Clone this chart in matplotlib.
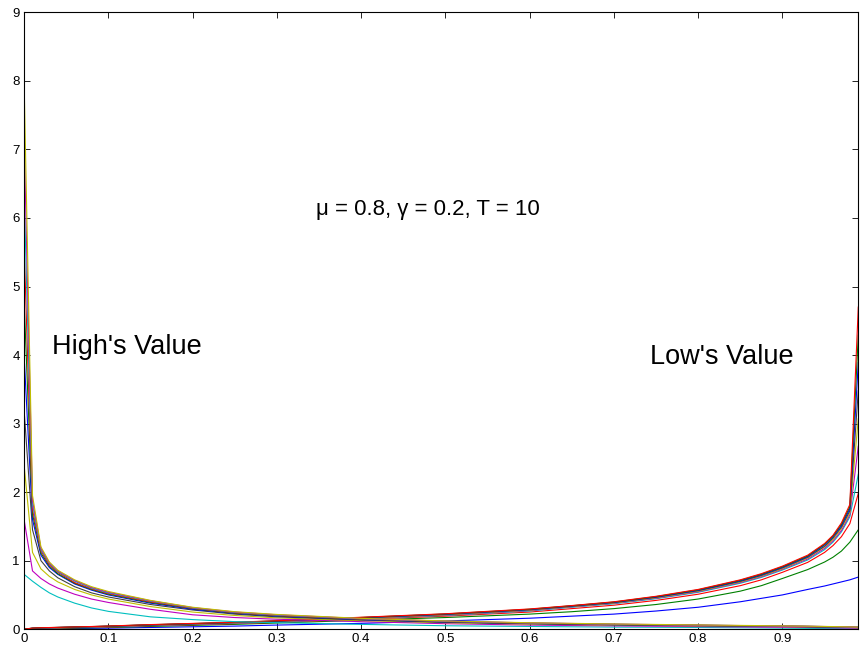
import numpy as np
import matplotlib
matplotlib.use("Agg")
import matplotlib.pyplot as plt

plt.rcParams['font.family'] = ['Liberation Sans', 'DejaVu Sans']

# sample positions along the x axis
x = [0, 0.01, 0.02, 0.03, 0.04, 0.06, 0.08, 0.1, 0.15, 0.2, 0.25, 0.3, 0.4,
     0.5, 0.6, 0.65, 0.7, 0.75, 0.8, 0.85, 0.875, 0.9, 0.93, 0.95, 0.96, 0.97, 0.98, 0.99]

# Low's value curves (drawn first)
low1 = [0, 0.002, 0.004, 0.005, 0.007, 0.01, 0.012, 0.015, 0.025, 0.035, 0.045, 0.06, 0.085,
        0.12, 0.16, 0.19, 0.22, 0.265, 0.32, 0.40, 0.45, 0.50, 0.58, 0.63, 0.66, 0.69, 0.72, 0.76]
low2 = [0, 0.005, 0.008, 0.01, 0.012, 0.016, 0.02, 0.025, 0.04, 0.055, 0.07, 0.09, 0.13,
        0.17, 0.22, 0.255, 0.30, 0.36, 0.44, 0.555, 0.635, 0.74, 0.87, 0.98, 1.05, 1.14, 1.27, 1.45]
low3 = [0, 0.008, 0.012, 0.014, 0.017, 0.022, 0.027, 0.032, 0.05, 0.065, 0.082, 0.1, 0.145,
        0.19, 0.25, 0.30, 0.35, 0.42, 0.51, 0.635, 0.72, 0.83, 0.975, 1.12, 1.22, 1.35, 1.54, 1.98]
low4 = [0, 0.01, 0.014, 0.017, 0.02, 0.026, 0.031, 0.036, 0.054, 0.07, 0.087, 0.105, 0.152,
        0.2, 0.265, 0.32, 0.371, 0.444, 0.538, 0.67, 0.755, 0.863, 1.01, 1.16, 1.27, 1.42, 1.64, 2.26]
low5 = [0, 0.011, 0.016, 0.019, 0.022, 0.028, 0.033, 0.038, 0.057, 0.073, 0.09, 0.11, 0.157,
        0.205, 0.272, 0.326, 0.378, 0.452, 0.547, 0.681, 0.766, 0.875, 1.025, 1.18, 1.29, 1.44, 1.67, 2.67]
low6 = [0, 0.012, 0.017, 0.02, 0.023, 0.029, 0.034, 0.04, 0.059, 0.076, 0.093, 0.113, 0.161,
        0.21, 0.278, 0.331, 0.383, 0.459, 0.555, 0.69, 0.776, 0.885, 1.04, 1.20, 1.31, 1.47, 1.70, 3.07]
low7 = [0, 0.013, 0.018, 0.021, 0.024, 0.03, 0.036, 0.042, 0.061, 0.078, 0.096, 0.116, 0.165,
        0.215, 0.283, 0.335, 0.388, 0.465, 0.562, 0.698, 0.785, 0.895, 1.05, 1.21, 1.33, 1.49, 1.73, 3.48]
low8 = [0, 0.014, 0.019, 0.022, 0.025, 0.031, 0.037, 0.043, 0.063, 0.08, 0.098, 0.119, 0.168,
        0.219, 0.287, 0.339, 0.392, 0.47, 0.568, 0.706, 0.794, 0.904, 1.06, 1.23, 1.35, 1.51, 1.76, 3.89]
low9 = [0, 0.015, 0.02, 0.023, 0.026, 0.032, 0.038, 0.045, 0.065, 0.082, 0.1, 0.121, 0.171,
        0.222, 0.291, 0.342, 0.396, 0.475, 0.574, 0.713, 0.802, 0.912, 1.07, 1.24, 1.36, 1.53, 1.79, 4.29]
low10 = [0, 0.016, 0.021, 0.024, 0.027, 0.033, 0.039, 0.046, 0.067, 0.084, 0.102, 0.123, 0.174,
         0.225, 0.295, 0.345, 0.40, 0.48, 0.58, 0.72, 0.81, 0.92, 1.08, 1.25, 1.37, 1.55, 1.82, 4.70]

# High's value curves
high1 = [0.80, 0.70, 0.61, 0.53, 0.47, 0.38, 0.31, 0.26, 0.18, 0.14, 0.11, 0.095, 0.07,
         0.05, 0.04, 0.035, 0.03, 0.028, 0.025, 0.02, 0.018, 0.015, 0.012, 0.01, 0.01, 0.008, 0.006, 0.005]
high2 = [1.60, 0.85, 0.74, 0.66, 0.60, 0.51, 0.44, 0.39, 0.29, 0.21, 0.17, 0.145, 0.11,
         0.08, 0.06, 0.054, 0.048, 0.043, 0.038, 0.033, 0.03, 0.028, 0.025, 0.022, 0.02, 0.018, 0.016, 0.014]
high3 = [2.40, 1.12, 0.88, 0.77, 0.69, 0.58, 0.50, 0.44, 0.33, 0.25, 0.20, 0.165, 0.125,
         0.095, 0.075, 0.067, 0.06, 0.054, 0.048, 0.043, 0.04, 0.038, 0.034, 0.031, 0.029, 0.027, 0.025, 0.022]
high4 = [3.20, 1.45, 1.00, 0.85, 0.75, 0.62, 0.53, 0.47, 0.36, 0.28, 0.22, 0.18, 0.135,
         0.10, 0.08, 0.072, 0.064, 0.058, 0.052, 0.046, 0.043, 0.04, 0.036, 0.033, 0.031, 0.029, 0.027, 0.024]
high5 = [4.00, 1.60, 1.08, 0.90, 0.80, 0.66, 0.57, 0.50, 0.38, 0.29, 0.23, 0.19, 0.14,
         0.105, 0.083, 0.075, 0.066, 0.06, 0.054, 0.048, 0.045, 0.042, 0.038, 0.035, 0.033, 0.031, 0.028, 0.025]
high6 = [4.80, 1.68, 1.11, 0.92, 0.81, 0.67, 0.58, 0.51, 0.39, 0.30, 0.235, 0.195, 0.145,
         0.108, 0.085, 0.077, 0.068, 0.061, 0.055, 0.049, 0.046, 0.043, 0.039, 0.036, 0.034, 0.032, 0.029, 0.026]
high7 = [5.60, 1.75, 1.14, 0.94, 0.83, 0.68, 0.59, 0.52, 0.40, 0.305, 0.24, 0.2, 0.148,
         0.111, 0.087, 0.079, 0.07, 0.063, 0.057, 0.05, 0.047, 0.044, 0.04, 0.037, 0.035, 0.033, 0.03, 0.027]
high8 = [6.40, 1.82, 1.16, 0.96, 0.84, 0.70, 0.60, 0.53, 0.41, 0.31, 0.245, 0.205, 0.152,
         0.114, 0.09, 0.081, 0.072, 0.065, 0.058, 0.052, 0.049, 0.046, 0.042, 0.038, 0.036, 0.034, 0.031, 0.028]
high9 = [7.20, 1.88, 1.18, 0.97, 0.85, 0.71, 0.61, 0.54, 0.415, 0.315, 0.25, 0.21, 0.155,
         0.117, 0.092, 0.083, 0.074, 0.067, 0.06, 0.053, 0.05, 0.047, 0.043, 0.039, 0.037, 0.035, 0.032, 0.029]
high10 = [8.00, 1.95, 1.20, 0.98, 0.86, 0.72, 0.62, 0.55, 0.42, 0.32, 0.255, 0.215, 0.158,
          0.12, 0.094, 0.085, 0.076, 0.069, 0.062, 0.055, 0.052, 0.048, 0.044, 0.04, 0.038, 0.036, 0.033, 0.03]

xticks = [0, 0.1, 0.2, 0.3, 0.4, 0.5, 0.6, 0.7, 0.8, 0.9]
xticklabels = ["0", "0.1", "0.2", "0.3", "0.4", "0.5", "0.6", "0.7", "0.8", "0.9"]
yticks = [0, 1, 2, 3, 4, 5, 6, 7, 8, 9]

# old matlab colour order
matlab_colors = [(0, 0, 1), (0, 0.5, 0), (1, 0, 0), (0, 0.75, 0.75),
                 (0.75, 0, 0.75), (0.75, 0.75, 0), (0.25, 0.25, 0.25)]

fig = plt.figure(figsize=(8.6, 6.52), dpi=100)
ax = fig.add_axes([0.028, 0.035, 0.97, 0.946])

curves = [low1, low2, low3, low4, low5, low6, low7, low8, low9, low10,
          high1, high2, high3, high4, high5, high6, high7, high8, high9, high10]
for i, y in enumerate(curves):
  ax.plot(x, y, color=matlab_colors[i % 7], linewidth=0.8)

ax.set_xlim(0, 0.99)
ax.set_ylim(0, 9)
ax.set_xticks(xticks)
ax.set_xticklabels(xticklabels)
ax.set_yticks(yticks)
ax.tick_params(direction="in", length=4, width=0.6, labelsize=9.5, pad=3,
               top=True, right=True)
for s in ax.spines.values():
  s.set_linewidth(0.8)

ax.text(0.346, 6.12, "\u03bc = 0.8, \u03b3 = 0.2, T = 10", fontsize=16, va="center")
ax.text(0.033, 4.12, "High's Value", fontsize=19.5, va="center")
ax.text(0.743, 3.97, "Low's Value", fontsize=19.5, va="center")

fig.savefig("out.png", dpi=100)
